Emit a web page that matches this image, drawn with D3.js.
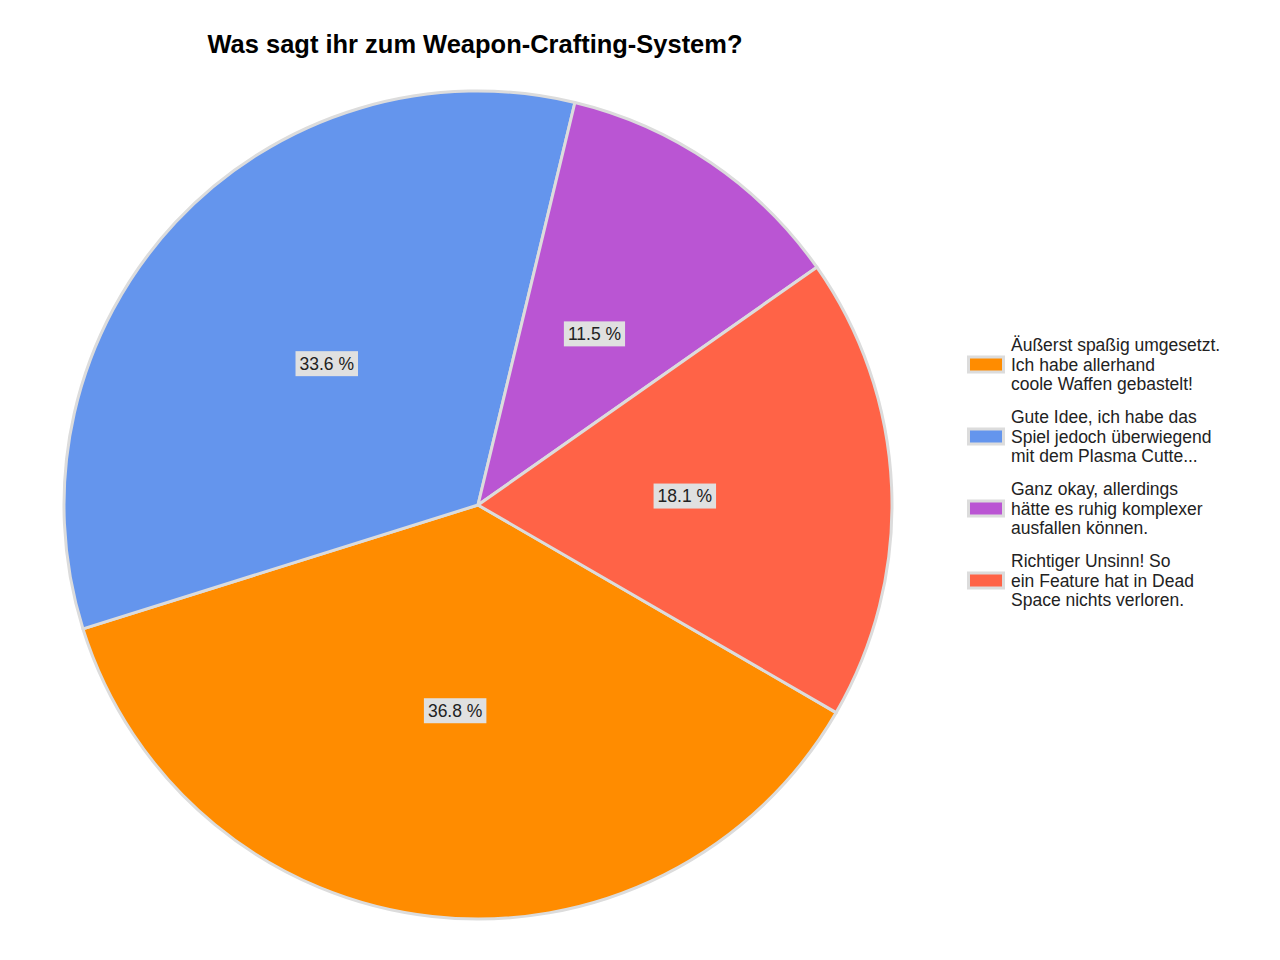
<!DOCTYPE html>
<html>
<head>
<meta charset="utf-8">
<script src="https://cdn.jsdelivr.net/npm/d3@7"></script>
<style>
  body { margin: 0; background: #fff; }
  svg text { font-family: "Liberation Sans", Arial, sans-serif; }
</style>
</head>
<body>
<div id="chart"></div>
<script>
// Data
const titleText = "Was sagt ihr zum Weapon-Crafting-System?";
const categories = [
  ["Äußerst spaßig umgesetzt.", "Ich habe allerhand", "coole Waffen gebastelt!"],
  ["Gute Idee, ich habe das", "Spiel jedoch überwiegend", "mit dem Plasma Cutte..."],
  ["Ganz okay, allerdings", "hätte es ruhig komplexer", "ausfallen können."],
  ["Richtiger Unsinn! So", "ein Feature hat in Dead", "Space nichts verloren."]
];
const values = [36.8, 33.6, 11.5, 18.1];
const colors = ["#ff8c00", "#6495ed", "#ba55d3", "#ff6347"];

const width = 1280, height = 960;
const cx = 478, cy = 505, radius = 414;

const svg = d3.select("#chart")
  .append("svg")
    .attr("width", width)
    .attr("height", height)
    .attr("viewBox", [0, 0, width, height]);

// Title
svg.append("text")
  .attr("x", 475)
  .attr("y", 53)
  .attr("text-anchor", "middle")
  .style("font-size", "25px")
  .style("font-weight", "bold")
  .attr("textLength", 535)
  .attr("lengthAdjust", "spacingAndGlyphs")
  .text(titleText);

// Pie - first slice begins at about 4 o'clock
const start = 120.1 * Math.PI / 180;
const pie = d3.pie()
  .sort(null)
  .startAngle(start)
  .endAngle(start + 2 * Math.PI);

const arc = d3.arc().innerRadius(0).outerRadius(radius);
const labelArc = d3.arc().innerRadius(radius / 2).outerRadius(radius / 2);

const g = svg.append("g")
  .attr("transform", `translate(${cx}, ${cy})`);

const arcs = pie(values);

g.selectAll("path")
  .data(arcs)
  .join("path")
    .attr("d", arc)
    .attr("fill", (d, i) => colors[i])
    .attr("stroke", "#dcdcdc")
    .attr("stroke-width", 3)
    .attr("stroke-linejoin", "round");

// Percent labels with grey boxes
const labels = g.selectAll("g.label")
  .data(arcs)
  .join("g")
    .attr("class", "label")
    .attr("transform", d => `translate(${labelArc.centroid(d)})`);

labels.append("text")
  .attr("text-anchor", "middle")
  .attr("dy", "0.36em")
  .style("font-size", "17.5px")
  .attr("fill", "#222")
  .text(d => d.data.toFixed(1) + " %")
  .each(function() {
    const bb = this.getBBox();
    d3.select(this.parentNode).insert("rect", "text")
      .attr("x", bb.x - 4)
      .attr("y", -12.5)
      .attr("width", bb.width + 8)
      .attr("height", 25)
      .attr("fill", "#e0e0e0");
  });

// Legend
const legend = svg.append("g")
  .attr("transform", "translate(967, 337)");

const item = legend.selectAll("g")
  .data(categories)
  .join("g")
    .attr("transform", (d, i) => `translate(0, ${i * 72})`);

item.append("rect")
  .attr("x", 1.5)
  .attr("y", 20)
  .attr("width", 35)
  .attr("height", 15)
  .attr("fill", (d, i) => colors[i])
  .attr("stroke", "#dcdcdc")
  .attr("stroke-width", 3);

item.append("text")
  .style("font-size", "17.5px")
  .attr("fill", "#222")
  .selectAll("tspan")
  .data(d => d)
  .join("tspan")
    .attr("x", 44)
    .attr("y", (d, j) => 14 + j * 19.5)
    .text(d => d);
</script>
</body>
</html>
